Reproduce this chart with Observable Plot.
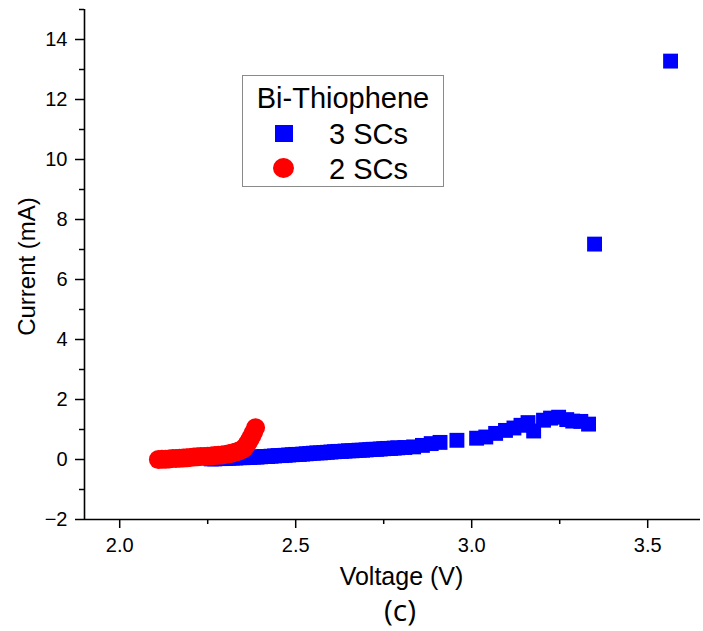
<!DOCTYPE html>
<html>
<head>
<meta charset="utf-8">
<script src="https://cdn.jsdelivr.net/npm/d3@7"></script>
<script src="https://cdn.jsdelivr.net/npm/@observablehq/plot@0.6"></script>
<style>
  html, body { margin: 0; padding: 0; background: #fff; }
  #wrap { position: relative; width: 703px; height: 631px; font-family: "Liberation Sans", Arial, sans-serif; }
  #legend { position: absolute; left: 242px; top: 75px; width: 200px; height: 110px; border: 1.5px solid #8a8a8a; background: #fff; color: #000; }
  #legend .title { position: absolute; left: 0; width: 100%; top: 5px; text-align: center; font-size: 29px; line-height: 34px; }
  #legend .row { position: absolute; left: 0; width: 100%; height: 34px; }
  #legend .lab { position: absolute; left: 86px; top: 0; font-size: 29px; line-height: 34px; }
  #legend .sw { position: absolute; }
  #caption { position: absolute; left: 350px; width: 100px; top: 591px; height: 38px; text-align: center; font-family: "Open Sans", sans-serif; font-size: 30px; line-height: 38px; color: #000; }
</style>
</head>
<body>
<div id="wrap">
  <div id="chart"></div>
  <div id="legend"></div>
  <div id="caption">(c)</div>
</div>
<script>
// ---- data ----
const seriesNames = ["3 SCs", "2 SCs"];
const legendTitle = "Bi-Thiophene";
const xLabel = "Voltage (V)";
const yLabel = "Current (mA)";
const captionText = "(c)";

const blueV = [2.26,2.27,2.28,2.29,2.30,2.31,2.32,2.33,2.34,2.35,2.36,2.37,2.38,2.39,2.40,2.41,2.42,2.43,2.44,2.45,2.46,2.47,2.48,2.49,2.50,2.51,2.52,2.53,2.54,2.55,2.56,2.57,2.58,2.59,2.60,2.61,2.62,2.63,2.64,2.65,2.66,2.67,2.68,2.69,2.70,2.71,2.72,2.73,2.74,2.75,2.76,2.77,2.78,2.79,2.81,2.835,2.86,2.885,2.91,2.958,3.014,3.04,3.068,3.096,3.12,3.14,3.16,3.176,3.204,3.224,3.247,3.27,3.287,3.31,3.332,3.349,3.565];
const blueI = [0.02,0.02,0.03,0.03,0.04,0.04,0.05,0.05,0.06,0.06,0.07,0.07,0.08,0.08,0.09,0.10,0.10,0.11,0.12,0.13,0.13,0.14,0.15,0.16,0.17,0.17,0.18,0.19,0.20,0.21,0.22,0.22,0.23,0.24,0.25,0.26,0.27,0.27,0.28,0.29,0.29,0.30,0.31,0.31,0.32,0.33,0.34,0.34,0.35,0.36,0.37,0.37,0.38,0.39,0.40,0.42,0.47,0.53,0.57,0.64,0.71,0.75,0.87,0.97,1.05,1.14,1.23,0.95,1.31,1.38,1.41,1.33,1.28,1.27,1.18,7.18,13.28];

const redV = [2.11,2.12,2.13,2.14,2.15,2.16,2.17,2.18,2.19,2.20,2.21,2.22,2.23,2.24,2.25,2.26,2.27,2.28,2.29,2.30,2.31,2.32,2.33,2.34,2.35,2.355,2.36,2.365,2.37,2.375,2.38,2.386];
const redI = [0.00,0.01,0.01,0.02,0.03,0.03,0.04,0.05,0.06,0.07,0.08,0.09,0.10,0.10,0.11,0.12,0.13,0.14,0.15,0.17,0.19,0.22,0.25,0.29,0.34,0.40,0.48,0.57,0.67,0.78,0.90,1.06];

const xMajor = [2.0, 2.5, 3.0, 3.5];
const xMinor = [2.25, 2.75, 3.25];
const yMajor = [-2, 0, 2, 4, 6, 8, 10, 12, 14];
const yMinor = [-1, 1, 3, 5, 7, 9, 11, 13, 15];
const xDomain = [1.9, 3.65];
const yDomain = [-2, 15];
const colors = ["#0000ff", "#ff0000"];

const blue = blueV.map((v, i) => ({v, c: blueI[i]}));
const red = redV.map((v, i) => ({v, c: redI[i]}));

const font = "Liberation Sans, Arial, sans-serif";

const chart = Plot.plot({
  width: 703,
  height: 631,
  marginLeft: 84,
  marginRight: 3,
  marginTop: 9,
  marginBottom: 112,
  style: {fontFamily: font, color: "#000", background: "#fff", overflow: "visible"},
  x: {domain: xDomain},
  y: {domain: yDomain},
  marks: [
    Plot.axisX({ticks: xMinor, tickSize: 5, tickFormat: () => "", label: null, strokeWidth: 1.5}),
    Plot.axisX({ticks: xMajor, tickSize: 9, tickPadding: 9, fontSize: 20, tickFormat: d3.format(".1f"), label: null, strokeWidth: 1.5}),
    Plot.axisY({ticks: yMinor, tickSize: 5, tickFormat: () => "", label: null, strokeWidth: 1.5}),
    Plot.axisY({ticks: yMajor, tickSize: 9, tickPadding: 8, fontSize: 20, tickFormat: d3.format("d"), label: null, strokeWidth: 1.5}),
    Plot.ruleX([xDomain[0]], {stroke: "#000", strokeWidth: 1.6}),
    Plot.ruleY([yDomain[0]], {stroke: "#000", strokeWidth: 1.6}),
    Plot.dot(blue, {x: "v", y: "c", symbol: "square", r: 8.4, fill: colors[0], stroke: null}),
    Plot.dot(red, {x: "v", y: "c", symbol: "circle", r: 9.5, fill: colors[1], stroke: null}),
    Plot.text([xLabel], {frameAnchor: "bottom", textAnchor: "middle", lineAnchor: "middle", dx: 9, dy: 57, fontSize: 25, fill: "#000"}),
    Plot.text([yLabel], {frameAnchor: "left", textAnchor: "middle", lineAnchor: "middle", dx: -57, dy: 2, rotate: -90, fontSize: 24, fill: "#000"})
  ]
});
document.getElementById("chart").appendChild(chart);

// legend
const lg = document.getElementById("legend");
const t = document.createElement("div");
t.className = "title"; t.textContent = legendTitle;
lg.appendChild(t);
seriesNames.forEach((name, i) => {
  const row = document.createElement("div");
  row.className = "row";
  row.style.top = (41 + i * 34.5) + "px";
  const sw = document.createElement("div");
  sw.className = "sw";
  if (i === 0) {
    sw.style.cssText = `left:32px;top:8px;width:18px;height:17px;background:${colors[0]};`;
  } else {
    sw.style.cssText = `left:30px;top:6px;width:21px;height:20px;border-radius:50%;background:${colors[1]};`;
  }
  const lab = document.createElement("div");
  lab.className = "lab"; lab.textContent = name;
  row.appendChild(sw); row.appendChild(lab);
  lg.appendChild(row);
});
document.getElementById("caption").textContent = captionText;
</script>
</body>
</html>
